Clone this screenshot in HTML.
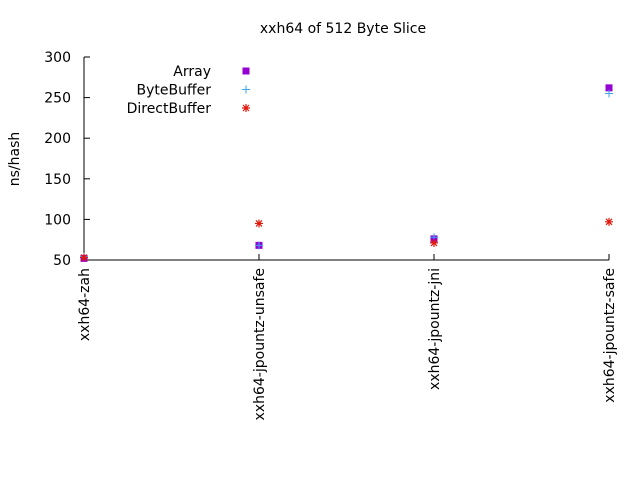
<!DOCTYPE html>
<html><head><meta charset="utf-8"><style>
body{margin:0;background:#fff;font-family:"DejaVu Sans",sans-serif;}
</style></head><body>
<svg id="chart" width="640" height="480" xmlns="http://www.w3.org/2000/svg" font-family="DejaVu Sans, sans-serif" font-size="14">
<rect width="640" height="480" fill="#fff"/>
<text x="343" y="33" text-anchor="middle">xxh64 of 512 Byte Slice</text>
<text transform="translate(19,159) rotate(-90)" text-anchor="middle">ns/hash</text>
<g id="axes"></g>
<g id="marks"></g>
<g id="legend"></g>
</svg>
<script>
const categories=["xxh64-zah","xxh64-jpountz-unsafe","xxh64-jpountz-jni","xxh64-jpountz-safe"];
const arrayVals=[52,68,76,262];
const byteBufferVals=[54,68,78,255];
const directBufferVals=[53,95,71,97];
const yTicks=[50,100,150,200,250,300];
const NS="http://www.w3.org/2000/svg";
const x0=84,x1=609,yTop=57,yBot=260,yMin=50,yMax=300;
const xs=i=>x0+i*(x1-x0)/(categories.length-1);
const ys=v=>yBot-(v-yMin)/(yMax-yMin)*(yBot-yTop);
function mk(tag,attrs,parent){const e=document.createElementNS(NS,tag);for(const k in attrs)e.setAttribute(k,attrs[k]);parent.appendChild(e);return e;}
const axes=document.getElementById('axes'),marks=document.getElementById('marks'),legend=document.getElementById('legend');
let a=mk('path',{d:`M${x0},${yTop}V${yBot}H${x1}`,stroke:'#000',fill:'none','stroke-width':1},axes);


yTicks.forEach(t=>{
 const y=ys(t);
 let l=mk('line',{x1:x0,x2:x0+6,y1:y,y2:y,stroke:'#000'},axes);
 
 
 let tx=mk('text',{x:x0-13,y:y+5,'text-anchor':'end'},axes);tx.textContent=t;
 
 
});
categories.forEach((c,i)=>{
 const x=xs(i);
 let l=mk('line',{x1:x,x2:x,y1:yBot,y2:yBot-6,stroke:'#000'},axes);
 
 
 let tx=mk('text',{transform:`translate(${x+5},${yBot+8}) rotate(-90)`,'text-anchor':'end'},axes);tx.textContent=c;
 
 
});
function square(x,y,p){return mk('rect',{x:x-3.5,y:y-3.5,width:7,height:7,fill:'#9400d3'},p);}
function plus(x,y,p){return mk('path',{d:`M${x-4},${y}H${x+4}M${x},${y-4}V${y+4}`,stroke:'#3aa6f0','stroke-width':1,fill:'none'},p);}
function star(x,y,p){return mk('path',{d:`M${x-4},${y}H${x+4}M${x},${y-4}V${y+4}M${x-3},${y-3}L${x+3},${y+3}M${x-3},${y+3}L${x+3},${y-3}`,stroke:'#e0180c','stroke-width':1.2,fill:'none'},p);}
categories.forEach((c,i)=>{
 let m=square(xs(i),ys(arrayVals[i]),marks);
 
 
});
categories.forEach((c,i)=>{
 let m=plus(xs(i),ys(byteBufferVals[i]),marks);
 
 
});
categories.forEach((c,i)=>{
 let m=star(xs(i),ys(directBufferVals[i]),marks);
 
 
});
const legendNames=["Array","ByteBuffer","DirectBuffer"];
const fns=[square,plus,star];
legendNames.forEach((n,i)=>{
 const y=71+i*18.5;
 let t=mk('text',{x:211,y:y+5,'text-anchor':'end'},legend);t.textContent=n;
 
 
 let m=fns[i](246,y,legend);
 
 
});
</script>
</body></html>
